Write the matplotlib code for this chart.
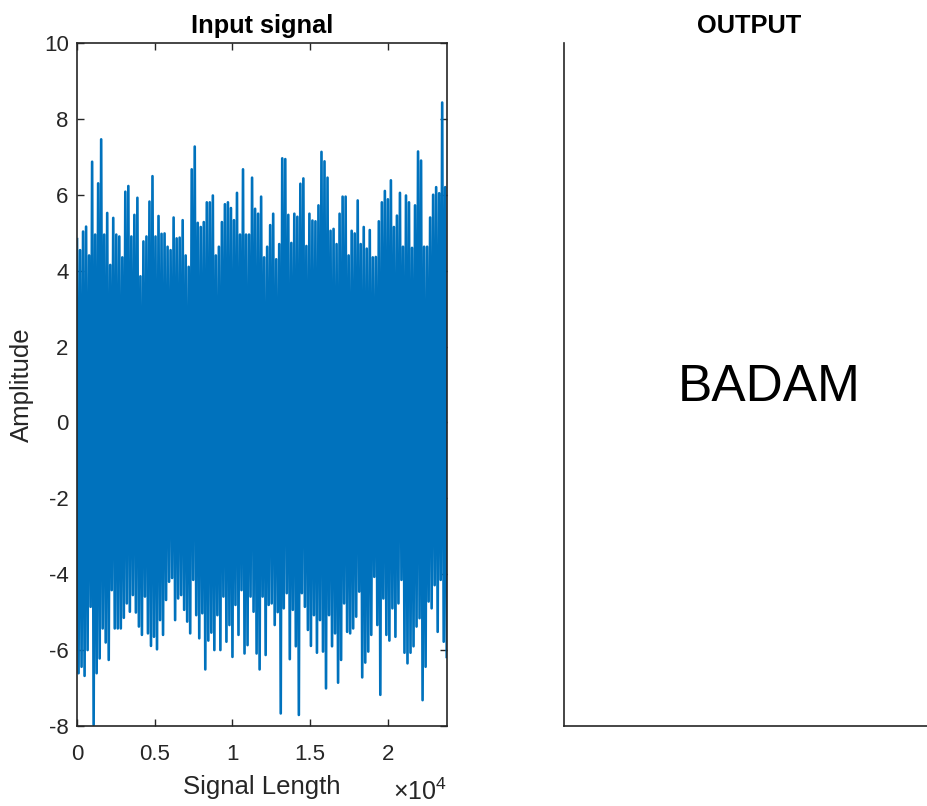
import numpy as np
import matplotlib
matplotlib.use('Agg')
import matplotlib.pyplot as plt
from matplotlib.ticker import FuncFormatter

plt.rcParams['font.family'] = ['Liberation Sans', 'DejaVu Sans']
plt.rcParams['mathtext.fontset'] = 'custom'
plt.rcParams['mathtext.rm'] = 'Liberation Sans'
plt.rcParams['axes.unicode_minus'] = False

# データ -----------------------------------
N = 23800  # 信号の長さ
# 各区間の最大値 (上側の包絡)
sig_top = [4.83, 4.54, 5.03, 5.16, 4.4, 6.87, 4.95, 6.3, 7.46, 4.95,
           5.52, 4.15, 5.39, 4.95, 4.9, 4.35, 6.08, 6.23, 4.9, 5.47,
           5.92, 3.85, 4.77, 4.9, 5.82, 6.49, 4.9, 5.44, 4.97, 4.98,
           4.63, 4.54, 5.4, 4.85, 4.87, 5.33, 4.4, 4.1, 6.67, 7.27,
           5.26, 5.15, 5.28, 5.8, 5.8, 5.98, 4.4, 4.63, 5.28, 5.75,
           5.8, 5.65, 5.33, 6.05, 4.95, 6.67, 4.95, 4.95, 6.45, 5.63,
           5.5, 5.95, 4.35, 4.63, 5.2, 5.5, 4.3, 4.7, 6.96, 6.94,
           5.47, 4.73, 5.5, 5.42, 6.29, 6.43, 4.65, 5.5, 5.32, 5.3,
           5.72, 7.13, 6.88, 6.45, 5.05, 5.1, 4.7, 5.5, 5.95, 5.95,
           4.4, 5.05, 4.98, 5.85, 4.7, 5.15, 4.58, 5.07, 4.35, 4.36,
           5.3, 5.8, 6.1, 5.88, 6.38, 5.15, 5.45, 6.05, 4.63, 5.98,
           5.8, 4.6, 5.72, 7.14, 6.9, 4.63, 4.63, 5.4, 6.0, 6.2,
           6.04, 8.43, 6.2]
# 各区間の最小値 (下側の包絡)
sig_bot = [-6.61, -6.44, -6.68, -6.0, -4.86, -7.97, -6.61, -6.22, -5.43, -5.8,
           -6.26, -4.42, -5.43, -5.43, -5.43, -5.15, -4.77, -4.99, -4.55, -5.01,
           -5.38, -5.6, -4.59, -5.56, -5.89, -5.65, -5.98, -5.21, -5.6, -4.68,
           -4.2, -4.1, -5.21, -4.64, -4.55, -4.94, -5.25, -5.56, -4.15, -5.08,
           -5.69, -5.03, -6.51, -5.75, -5.54, -6.0, -5.08, -6.0, -4.59, -5.78,
           -5.34, -6.18, -4.81, -5.6, -4.42, -6.09, -5.87, -4.59, -4.99, -6.09,
           -6.51, -4.59, -6.13, -4.81, -4.77, -5.34, -5.0, -7.67, -4.9, -4.5,
           -6.24, -4.94, -5.9, -7.71, -4.5, -4.86, -5.47, -5.89, -5.08, -6.07,
           -5.21, -6.04, -7.01, -5.08, -5.9, -5.56, -6.86, -6.26, -4.77, -5.52,
           -5.56, -5.43, -5.12, -4.46, -6.72, -6.33, -6.04, -5.6, -4.07, -5.34,
           -7.18, -4.64, -5.6, -5.75, -4.9, -5.65, -4.77, -4.15, -6.07, -6.35,
           -6.07, -5.9, -5.38, -5.16, -7.32, -6.44, -4.72, -4.9, -4.29, -5.52,
           -4.15, -5.78, -6.18]
output_text = 'BADAM'

# 上下の値を交互に並べて信号にする
sig = np.empty(2 * len(sig_top))
sig[0::2] = sig_top
sig[1::2] = sig_bot
n = np.linspace(0, N, len(sig))

axcol = '#262626'
fig = plt.figure(figsize=(9.27, 8.06), dpi=100)

# 入力信号 ------------------------------------
ax1 = fig.add_axes([0.0831, 0.0993, 0.3988, 0.8474])
ax1.plot(n, sig, color='#0072BD', linewidth=1.9)
ax1.set_xlim(0, N)
ax1.set_ylim(-8, 10)
ax1.set_yticks(np.arange(-8, 11, 2))
ax1.set_xticks(np.arange(0, 20001, 5000))
ax1.xaxis.set_major_formatter(FuncFormatter(lambda v, p: '{:g}'.format(v / 1e4)))
ax1.tick_params(direction='in', length=5, width=1, colors=axcol,
                labelsize=16, top=True, right=True, pad=6)
ax1.tick_params(axis='x', pad=13)
for s in ax1.spines.values():
    s.set_color(axcol)
    s.set_linewidth(1.2)
ax1.set_title('Input signal', fontsize=18.3, fontweight='bold', pad=7)
ax1.set_xlabel('Signal Length', fontsize=18.5, color=axcol, labelpad=7)
ax1.set_ylabel('Amplitude', fontsize=18.5, color=axcol, labelpad=7)
ax1.text(1.0, -0.108, r'$\times10^{4}$', transform=ax1.transAxes,
         ha='right', va='baseline', fontsize=18, color=axcol)

# 出力 ----------------------------------------
ax2 = fig.add_axes([0.6084, 0.0993, 0.3988, 0.8474])
ax2.set_xticks([])
ax2.set_yticks([])
ax2.spines['top'].set_visible(False)
ax2.spines['right'].set_visible(False)
for s in ['left', 'bottom']:
    ax2.spines[s].set_color(axcol)
    ax2.spines[s].set_linewidth(1.2)
ax2.set_title('OUTPUT', fontsize=18.3, fontweight='bold', pad=7)
ax2.text(0.308, 0.495, output_text, transform=ax2.transAxes,
         ha='left', va='center', fontsize=37, color='black')

fig.savefig('out.png', dpi=100)
